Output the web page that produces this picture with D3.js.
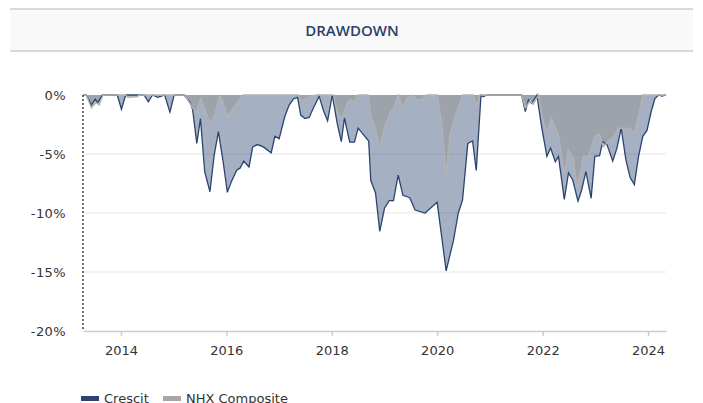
<!DOCTYPE html>
<html>
<head>
<meta charset="utf-8">
<script src="https://cdn.jsdelivr.net/npm/d3@7"></script>
<style>
  body { margin: 0; background: #fff; }
  svg { display: block; }
</style>
</head>
<body>
<div id="chrt"></div>
<script>
// drawdown series, [decimal year, drawdown %]
const crescitDd = [
  [2013.28, 0], [2013.34, 0], [2013.44, -0.85], [2013.51, -0.36], [2013.56, -0.65], [2013.65, 0],
  [2013.93, 0], [2014.01, -1.2], [2014.09, 0], [2014.44, 0], [2014.52, -0.57], [2014.60, 0],
  [2014.70, -0.2], [2014.77, -0.1], [2014.83, 0], [2014.93, -1.45], [2015.01, 0], [2015.20, 0],
  [2015.31, -0.6], [2015.36, -1.2], [2015.44, -4.1], [2015.51, -2.0], [2015.59, -6.5], [2015.69, -8.2],
  [2015.77, -5.1], [2015.85, -3.1], [2015.94, -5.65], [2016.02, -8.25], [2016.10, -7.3], [2016.20, -6.35],
  [2016.26, -6.2], [2016.33, -5.6], [2016.43, -6.1], [2016.50, -4.4], [2016.59, -4.2], [2016.70, -4.4],
  [2016.85, -4.9], [2016.92, -3.5], [2017.00, -3.7], [2017.11, -1.8], [2017.19, -0.85], [2017.27, -0.34],
  [2017.35, -0.2], [2017.41, -1.7], [2017.49, -2.0], [2017.57, -1.9], [2017.65, -1.1], [2017.76, -0.1],
  [2017.84, -1.3], [2017.92, -2.2], [2018.01, 0], [2018.10, -2.35], [2018.18, -3.95], [2018.24, -1.95],
  [2018.34, -4.0], [2018.43, -4.0], [2018.50, -2.8], [2018.70, -3.9], [2018.74, -7.25], [2018.83, -8.3],
  [2018.91, -11.55], [2019.00, -9.6], [2019.09, -8.95], [2019.17, -8.95], [2019.26, -6.8], [2019.35, -8.5],
  [2019.48, -8.7], [2019.58, -9.75], [2019.77, -10.0], [2020.00, -9.1], [2020.17, -14.9], [2020.31, -12.3],
  [2020.40, -10.0], [2020.48, -8.9], [2020.58, -4.1], [2020.67, -3.9], [2020.74, -6.4], [2020.83, 0],
  [2020.87, -0.15], [2020.94, 0], [2021.60, 0], [2021.67, -1.4], [2021.73, -0.4], [2021.79, -0.7],
  [2021.89, 0], [2021.98, -2.7], [2022.08, -5.2], [2022.15, -4.5], [2022.24, -5.65], [2022.30, -5.2],
  [2022.41, -8.85], [2022.49, -6.6], [2022.57, -7.2], [2022.67, -9.0], [2022.74, -8.05], [2022.82, -6.5],
  [2022.92, -8.75], [2022.99, -5.2], [2023.08, -5.15], [2023.14, -3.95], [2023.22, -4.2], [2023.33, -5.6],
  [2023.41, -4.5], [2023.49, -2.8], [2023.58, -5.5], [2023.66, -7.0], [2023.74, -7.6], [2023.82, -5.2],
  [2023.90, -3.5], [2023.98, -3.0], [2024.06, -1.4], [2024.13, -0.3], [2024.20, 0], [2024.26, -0.1],
  [2024.34, 0]
];

const nhxDd = [
  [2013.28, 0], [2013.34, 0], [2013.44, -1.1], [2013.53, -0.65], [2013.59, -0.85], [2013.66, 0],
  [2014.09, 0], [2014.13, -0.2], [2014.30, -0.15], [2014.36, 0], [2015.21, 0], [2015.42, -1.5],
  [2015.52, -0.3], [2015.69, -2.4], [2015.78, -1.7], [2015.87, -0.1], [2015.91, -0.3], [2016.02, -1.8],
  [2016.32, 0], [2017.36, 0], [2017.43, -0.5], [2017.51, -0.3], [2017.59, -0.1], [2017.72, 0],
  [2018.03, 0], [2018.10, -1.3], [2018.18, -2.0], [2018.29, -0.75], [2018.34, -0.4], [2018.43, -0.55],
  [2018.50, 0], [2018.69, 0], [2018.75, -2.0], [2018.82, -2.7], [2018.91, -4.45], [2019.00, -2.7],
  [2019.10, -1.55], [2019.18, -1.0], [2019.26, 0], [2019.35, -1.2], [2019.42, -0.3], [2019.52, 0],
  [2019.61, -0.4], [2019.71, -0.4], [2019.80, 0], [2020.00, 0], [2020.09, -2.55], [2020.17, -6.9],
  [2020.24, -3.4], [2020.34, -1.8], [2020.48, 0], [2020.68, 0], [2020.75, -0.85], [2020.81, 0],
  [2021.60, 0], [2021.67, -1.1], [2021.76, -0.5], [2021.82, -0.8], [2021.92, 0], [2021.98, -1.55],
  [2022.07, -3.2], [2022.17, -2.0], [2022.30, -3.4], [2022.41, -6.6], [2022.49, -4.65], [2022.58, -5.4],
  [2022.66, -7.9], [2022.77, -5.2], [2022.87, -5.2], [2022.99, -3.5], [2023.08, -3.3], [2023.15, -4.4],
  [2023.24, -3.95], [2023.35, -3.5], [2023.44, -2.8], [2023.56, -2.85], [2023.66, -2.8], [2023.73, -3.3],
  [2023.82, -1.8], [2023.90, 0], [2024.34, 0]
];

const seriesNames = ['Crescit', 'NHX Composite'];
const yTicks = [0, -5, -10, -15, -20];
const xStart = 2013.28;
const xEnd = 2024.34;

const W = 703, H = 403;
const margin = { top: 95, right: 37, bottom: 72, left: 83 };
const plotW = W - margin.left - margin.right;
const plotH = H - margin.top - margin.bottom;
const lblFont = '"DejaVu Sans", Verdana, sans-serif';

function yearToDate(t) {
  const yr = Math.floor(t);
  const s = new Date(yr, 0, 1), e = new Date(yr + 1, 0, 1);
  return new Date(+s + (t - yr) * (e - s));
}

const svg = d3.select('#chrt').append('svg')
    .attr('width', W)
    .attr('height', H);

// header band
svg.append('rect').attr('x', 10).attr('y', 9).attr('width', 683).attr('height', 42).attr('fill', '#f9f9f9');
svg.append('line').attr('x1', 10).attr('x2', 693).attr('y1', 9).attr('y2', 9).attr('stroke', '#d9d9d9').attr('stroke-width', 2);
svg.append('line').attr('x1', 10).attr('x2', 693).attr('y1', 51).attr('y2', 51).attr('stroke', '#d9d9d9').attr('stroke-width', 2);
svg.append('text')
    .attr('x', 352).attr('y', 35.5)
    .attr('text-anchor', 'middle')
    .style('font-family', '"Open Sans", sans-serif')
    .style('font-size', '15px')
    .style('font-weight', 600)
    .style('fill', '#2d4068')
    .text('DRAWDOWN');

const g = svg.append('g').attr('transform', 'translate(' + margin.left + ',' + margin.top + ')');

const scaleX = d3.scaleTime().domain([yearToDate(xStart), yearToDate(xEnd)]).range([0, plotW]);
const scaleY = d3.scaleLinear().domain([-20, 0]).range([plotH, 0]);

// grid
g.selectAll('.grid').data(yTicks.filter((d) => d !== 0 && d !== -20)).enter()
    .append('line')
    .attr('x1', 0).attr('x2', plotW)
    .attr('y1', (d) => scaleY(d)).attr('y2', (d) => scaleY(d))
    .attr('stroke', '#eeeeee').attr('stroke-width', 1.5);

// y labels
g.selectAll('.ylbl').data(yTicks).enter()
    .append('text')
    .attr('x', -17).attr('y', (d) => scaleY(d) + 5)
    .attr('text-anchor', 'end')
    .style('font-family', lblFont)
    .style('font-size', '13px')
    .style('letter-spacing', '0.4px')
    .style('fill', '#333')
    .text((d) => d + '%');

// x axis
const xAxis = g.append('g')
    .attr('transform', 'translate(0,' + plotH + ')')
    .call(d3.axisBottom(scaleX).ticks(d3.timeYear.every(2)).tickFormat(d3.timeFormat('%Y')).tickSize(5).tickPadding(10).tickSizeOuter(0));
xAxis.select('.domain').attr('stroke', '#cccccc').attr('stroke-width', 1.5);
xAxis.selectAll('.tick line').attr('stroke', '#cccccc').attr('stroke-width', 1.5);
xAxis.selectAll('.tick text')
    .style('font-family', lblFont)
    .style('font-size', '13px')
    .style('fill', '#333');

const areaGen = d3.area()
    .x((d) => scaleX(yearToDate(d[0])))
    .y0(scaleY(0))
    .y1((d) => scaleY(d[1]));
const lineGen = d3.line()
    .x((d) => scaleX(yearToDate(d[0])))
    .y((d) => scaleY(d[1]));

g.append('path').datum(crescitDd)
    .attr('d', areaGen)
    .attr('fill', '#1f3a68').attr('fill-opacity', 0.4);
g.append('path').datum(nhxDd)
    .attr('d', areaGen)
    .attr('fill', '#999999').attr('fill-opacity', 0.6);
g.append('path').datum(crescitDd)
    .attr('d', lineGen)
    .attr('fill', 'none').attr('stroke', '#2b4570').attr('stroke-width', 1.3);
g.append('path').datum(nhxDd)
    .attr('d', lineGen)
    .attr('fill', 'none').attr('stroke', '#b3b3b3').attr('stroke-width', 1.3);

// dotted left edge
g.append('line')
    .attr('x1', 0).attr('x2', 0).attr('y1', 0).attr('y2', plotH)
    .attr('stroke', '#444').attr('stroke-width', 1.5).attr('stroke-dasharray', '2,2');

// legend
const legendColors = ['#2b4570', '#a6a6a6'];
const legendX = [81, 163];
const lg = svg.selectAll('.lg').data(seriesNames).enter().append('g')
    .attr('transform', (d, i) => 'translate(' + legendX[i] + ',394)');
lg.append('rect').attr('width', 18).attr('height', 5).attr('y', 2).attr('fill', (d, i) => legendColors[i]);
lg.append('text')
    .attr('x', 23).attr('y', 9)
    .style('font-family', lblFont)
    .style('font-size', '13px')
    .style('fill', '#333')
    .text((d) => d);
</script>
</body>
</html>
